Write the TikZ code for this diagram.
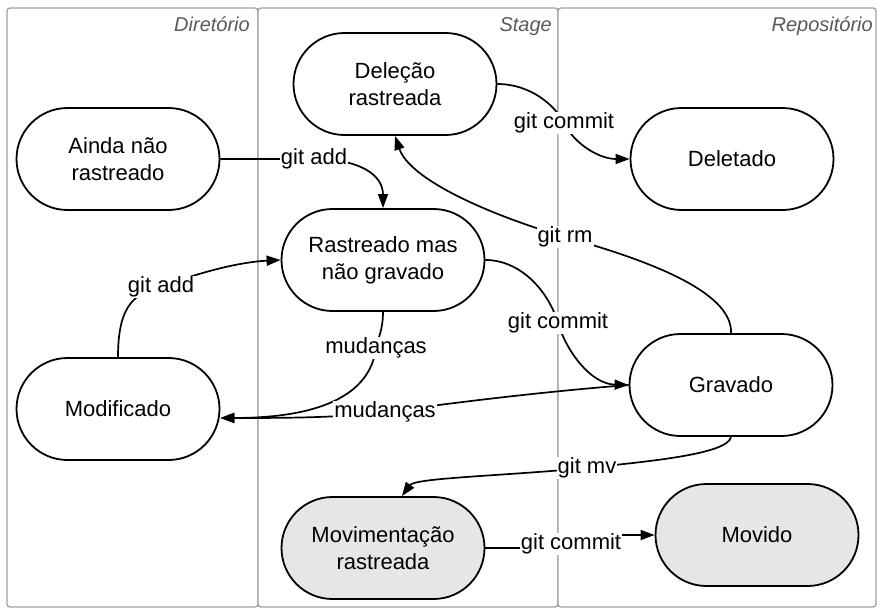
\documentclass[tikz,border=0pt]{standalone}
\usepackage{fontspec}
\setmainfont{Liberation Sans}
\usetikzlibrary{arrows.meta}
\definecolor{lanecol}{HTML}{A0A0A0}
\definecolor{titlecol}{HTML}{5A5A5A}
\definecolor{gfill}{HTML}{E6E6E6}
\begin{document}
\begin{tikzpicture}[x=1pt,y=-1pt,
  state/.style={draw, line width=1.8pt, rounded corners=51pt, minimum width=203pt,
    minimum height=102pt, align=center, font=\fontsize{22}{27}\selectfont, fill=white},
  moved/.style={state, fill=gfill},
  lbl/.style={font=\fontsize{22}{24}\selectfont, fill=white, inner sep=1pt},
  edge/.style={line width=1.7pt, -{Triangle[length=14pt,width=10pt]}},
  lanebox/.style={draw=lanecol, line width=1.3pt, fill=white, rounded corners=3pt},
  lanetitle/.style={font=\itshape\fontsize{20}{24}\selectfont, text=titlecol, anchor=base east, inner sep=0pt}]
\useasboundingbox (0,0) rectangle (880,610);
\fill[white] (0,0) rectangle (880,610);
% lanes
\draw[lanebox] (7,8) rectangle (258,607);
\draw[lanebox] (258,8) rectangle (558,607);
\draw[lanebox] (558,8) rectangle (876,607);
\node[lanetitle] (tdir) at (250,32) {Diretório};
\node[lanetitle] (tstage) at (552,32) {Stage};
\node[lanetitle] (trepo) at (873,32) {Repositório};
% states
\node[state] (ainda) at (118,159) {Ainda não\\rastreado};
\node[state] (del) at (395,84) {Deleção\\rastreada};
\node[state] (deletado) at (732,159) {Deletado};
\node[state] (rast) at (383,260) {Rastreado mas\\não gravado};
\node[state] (mod) at (118,409) {Modificado};
\node[state] (grav) at (731,385) {Gravado};
\node[moved] (mov) at (383,548) {Movimentação\\rastreada};
\node[moved] (movido) at (757,535) {Movido};
% edges
\draw[edge] (ainda.east) -- (314,159) node[lbl] (l1) {git add}
  .. controls (360,159) and (383,175) .. (rast.north);
\draw[edge] (mod.north) .. controls (118,312) and (130,293) .. (161,287) node[lbl] (l2) {git add}
  .. controls (200,272) and (240,262) .. (rast.west);
\draw[edge] (rast.south) .. controls (383,330) and (378,338) .. (376,348) node[lbl] (l3) {mudanças}
  .. controls (370,395) and (320,418) .. (mod.-5);
\draw[edge] (grav.west) .. controls (540,392) and (460,402) .. (385,412) node[lbl] (l4) {mudanças}
  .. controls (340,418) and (280,418) .. (mod.-5);
\draw[edge] (rast.east) .. controls (520,260) and (548,290) .. (558,323) node[lbl] (l5) {git commit}
  .. controls (566,350) and (590,384) .. (grav.west);
\draw[edge] (grav.north) .. controls (733,290) and (640,258) .. (565,237) node[lbl] (l6) {git rm}
  .. controls (490,215) and (410,180) .. (del.south);
\draw[edge] (del.east) .. controls (530,84) and (555,105) .. (564,123) node[lbl] (l7) {git commit}
  .. controls (575,145) and (600,159) .. (deletado.west);
\draw[edge] (grav.south) .. controls (728,455) and (640,462) .. (587,468) node[lbl] (l8) {git mv}
  .. controls (500,476) and (415,478) .. (mov.70);
\draw[edge] (mov.east) -- (571,548) -- (571,535) node[lbl, pos=0.3] (l9) {git commit} -- (movido.west);
\end{tikzpicture}
\end{document}
